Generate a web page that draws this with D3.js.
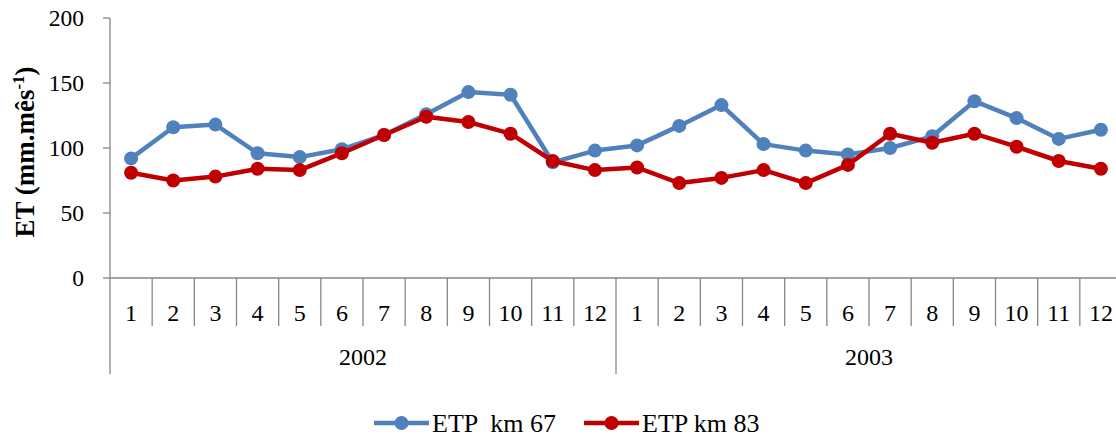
<!DOCTYPE html>
<html>
<head>
<meta charset="utf-8">
<script src="https://cdn.jsdelivr.net/npm/d3@7"></script>
<style>
  body { margin: 0; background: #fff; }
</style>
</head>
<body>
<script>
'use strict';

const years = ["2002", "2003"];
const months = ["1", "2", "3", "4", "5", "6", "7", "8", "9", "10", "11", "12"];
const etpKm67 = [92, 116, 118, 96, 93, 99, 110, 126, 143, 141, 89, 98,
                 102, 117, 133, 103, 98, 95, 100, 109, 136, 123, 107, 114];
const etpKm83 = [81, 75, 78, 84, 83, 96, 110, 124, 120, 111, 90, 83,
                 85, 73, 77, 83, 73, 87, 111, 104, 111, 101, 90, 84];
const yTicks = [0, 50, 100, 150, 200];
const seriesNames = ["ETP  km 67", "ETP km 83"];
const seriesColors = ["#4F81BD", "#C00000"];

(function() {
  let width = 1116;
  let height = 437;
  let left = 110, top = 18, bottom = 278, right = 1122;
  let serif = "Liberation Serif";

  let svg = d3.select("body")
    .append("svg")
    .attr("width", width)
    .attr("height", height);

  let cats = [];
  years.forEach(y => months.forEach(m => cats.push(y + "-" + m)));

  let x = d3.scaleBand()
    .domain(cats)
    .range([left, right]);
  let y = d3.scaleLinear()
    .domain([0, 200])
    .range([bottom, top]);

  let axisColor = "#868686";

  // y axis
  let gy = svg.append("g");
  gy.append("line")
    .attr("x1", left).attr("x2", left)
    .attr("y1", top).attr("y2", bottom)
    .attr("stroke", axisColor).attr("stroke-width", 1.3);
  gy.selectAll("line.tick")
    .data(yTicks)
    .enter()
    .append("line")
    .attr("class", "tick")
    .attr("x1", left - 7).attr("x2", left)
    .attr("y1", d => y(d)).attr("y2", d => y(d))
    .attr("stroke", axisColor).attr("stroke-width", 1.3);
  gy.selectAll("text")
    .data(yTicks)
    .enter()
    .append("text")
    .attr("x", left - 26)
    .attr("y", d => y(d))
    .attr("dy", "0.35em")
    .attr("text-anchor", "end")
    .attr("font-family", serif)
    .attr("font-size", 23.5)
    .text(d => d);

  let title = svg.append("text")
    .attr("transform", "translate(34," + ((top + bottom) / 2 + 4) + ") rotate(-90)")
    .attr("text-anchor", "middle")
    .attr("font-family", serif)
    .attr("font-size", 27)
    .attr("font-weight", "bold");
  title.append("tspan").text("ET (mm.mês");
  title.append("tspan")
    .attr("dy", -10)
    .attr("font-size", 17)
    .text("-1");
  title.append("tspan")
    .attr("dy", 10)
    .text(")");

  // x axis
  let gx = svg.append("g");
  gx.append("line")
    .attr("x1", left).attr("x2", width)
    .attr("y1", bottom).attr("y2", bottom)
    .attr("stroke", axisColor).attr("stroke-width", 1.3);
  gx.selectAll("line.sep")
    .data(cats.concat(["end"]))
    .enter()
    .append("line")
    .attr("class", "sep")
    .attr("x1", (d, i) => left + i * x.bandwidth())
    .attr("x2", (d, i) => left + i * x.bandwidth())
    .attr("y1", bottom)
    .attr("y2", (d, i) => i % 12 === 0 ? 374 : 326)
    .attr("stroke", axisColor).attr("stroke-width", 1.3);
  gx.selectAll("text.month")
    .data(cats)
    .enter()
    .append("text")
    .attr("class", "month")
    .attr("x", d => x(d) + x.bandwidth() / 2)
    .attr("y", 313)
    .attr("dy", "0.35em")
    .attr("text-anchor", "middle")
    .attr("font-family", serif)
    .attr("font-size", 24)
    .text(d => d.split("-")[1]);
  gx.selectAll("text.year")
    .data(years)
    .enter()
    .append("text")
    .attr("class", "year")
    .attr("x", d => (x(d + "-1") + x(d + "-12") + x.bandwidth()) / 2)
    .attr("y", 357)
    .attr("dy", "0.35em")
    .attr("text-anchor", "middle")
    .attr("font-family", serif)
    .attr("font-size", 24)
    .text(d => d);

  // series
  let series = [etpKm67, etpKm83];
  let line = d3.line()
    .x((d, i) => x(cats[i]) + x.bandwidth() / 2)
    .y(d => y(d));

  series.forEach((vals, s) => {
    let g = svg.append("g");
    g.append("path")
      .datum(vals)
      .attr("d", line)
      .attr("fill", "none")
      .attr("stroke", seriesColors[s])
      .attr("stroke-width", 4.5)
      .attr("stroke-linejoin", "round");
    g.selectAll("circle")
      .data(vals)
      .enter()
      .append("circle")
      .attr("cx", (d, i) => x(cats[i]) + x.bandwidth() / 2)
      .attr("cy", d => y(d))
      .attr("r", 7)
      .attr("fill", seriesColors[s]);
  });

  // legend
  let legendX = [374, 584];
  let leg = svg.append("g");
  seriesNames.forEach((name, s) => {
    let lg = leg.append("g").attr("transform", "translate(" + legendX[s] + ",423)");
    lg.append("line")
      .attr("x1", 0).attr("x2", 55)
      .attr("stroke", seriesColors[s]).attr("stroke-width", 4.5);
    lg.append("circle")
      .attr("cx", 27.5).attr("r", 7)
      .attr("fill", seriesColors[s]);
    lg.append("text")
      .attr("x", 58)
      .attr("dy", "0.35em")
      .attr("font-family", serif)
      .attr("font-size", 26)
      .style("white-space", "pre")
      .text(name);
  });
})();
</script>
</body>
</html>
